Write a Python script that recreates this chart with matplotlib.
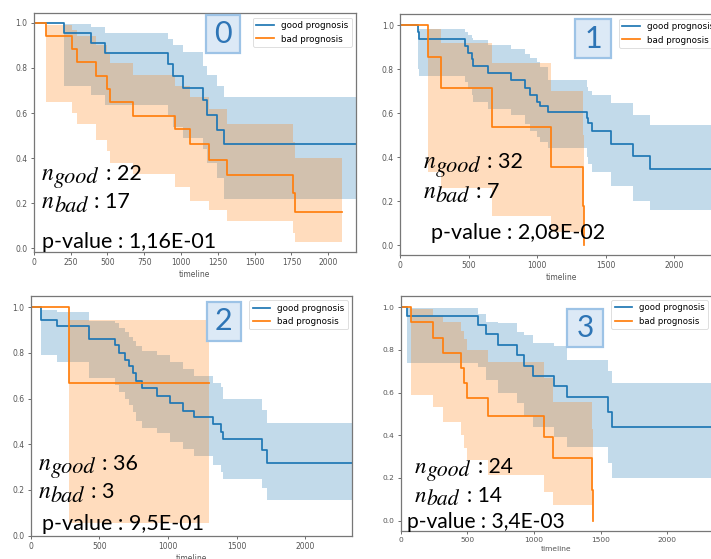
import matplotlib
matplotlib.use('Agg')
import matplotlib.pyplot as plt
from matplotlib.patches import Rectangle

W, H = 711, 559
fig = plt.figure(figsize=(W / 100, H / 100), dpi=100)

BLUE = '#1f77b4'
ORANGE = '#ff7f0e'

# ---------------- data ----------------
# panel 0
t0_good = [0, 208, 387, 484, 914, 948, 1011, 1152, 1174, 1242, 1292, 2188]
s0_good = [1.0, .955, .909, .864, .818, .764, .709, .657, .591, .524, .462, .462]
lo0_good = [1.0, .72, .68, .635, .59, .54, .49, .44, .38, .31, .22, .22]
hi0_good = [1.0, .995, .98, .955, .93, .90, .87, .81, .77, .72, .67, .67]
t0_bad = [0, 81, 258, 296, 423, 500, 518, 676, 959, 1061, 1190, 1310, 1758, 1771, 2090]
s0_bad = [1.0, .941, .882, .824, .765, .706, .647, .588, .529, .462, .392, .327, .245, .163, .163]
lo0_bad = [1.0, .65, .60, .55, .48, .43, .38, .33, .27, .21, .17, .12, .07, .03, .03]
hi0_bad = [1.0, .99, .97, .94, .90, .86, .82, .77, .72, .67, .62, .55, .47, .40, .40]

# panel 1
t1_good = [0, 129, 139, 474, 499, 523, 535, 640, 810, 912, 949, 998, 1022, 1078,
           1363, 1375, 1404, 1540, 1703, 1825, 2350]
s1_good = [1.0, .969, .938, .906, .875, .844, .813, .781, .75, .716, .683, .65, .63, .606,
           .576, .556, .518, .459, .406, .345, .345]
lo1_good = [1.0, .80, .77, .74, .71, .68, .65, .62, .59, .55, .52, .49, .47, .44,
            .40, .37, .33, .27, .20, .16, .16]
hi1_good = [1.0, .995, .98, .97, .955, .94, .93, .91, .89, .87, .85, .83, .81, .75,
            .72, .70, .68, .645, .59, .545, .545]
t1_bad = [0, 202, 299, 674, 1102, 1333, 1340]
s1_bad = [1.0, .857, .714, .536, .357, .179, 0.0]
lo1_bad = [1.0, .33, .26, .13, .06, .01, 0.0]
hi1_bad = [1.0, .98, .92, .826, .70, .50, 0.0]

# panel 2
t2_good = [0, 75, 194, 427, 614, 643, 687, 718, 748, 767, 808, 917, 1015, 1112, 1192,
           1330, 1383, 1398, 1682, 1718, 2342]
s2_good = [1.0, .944, .917, .861, .833, .80, .77, .742, .713, .677, .648, .612, .579, .547, .518,
           .489, .453, .421, .373, .32, .32]
lo2_good = [1.0, .79, .76, .69, .66, .63, .60, .57, .54, .50, .47, .45, .41, .38, .35,
            .31, .28, .25, .21, .155, .155]
hi2_good = [1.0, .988, .977, .94, .93, .91, .89, .87, .85, .83, .81, .79, .76, .73, .70,
            .67, .65, .60, .55, .495, .495]
t2_bad = [0, 282, 1301]
s2_bad = [1.0, .667, .667]
lo2_bad = [1.0, .055, .055]
hi2_bad = [1.0, .945, .945]

# panel 3
t3_good = [0, 45, 578, 640, 733, 870, 928, 995, 1153, 1245, 1558, 1583, 2335]
s3_good = [1.0, .958, .917, .875, .823, .777, .725, .678, .631, .581, .511, .4375, .4375]
lo3_good = [1.0, .74, .72, .66, .60, .55, .49, .44, .39, .345, .27, .20, .20]
hi3_good = [1.0, .995, .97, .933, .925, .886, .87, .831, .82, .753, .70, .644, .644]
t3_bad = [0, 75, 240, 320, 453, 475, 495, 658, 1078, 1145, 1433, 1440]
s3_bad = [1.0, .929, .857, .786, .714, .643, .573, .49, .394, .292, .144, 0.0]
lo3_bad = [1.0, .59, .534, .46, .40, .34, .284, .214, .136, .073, .01, 0.0]
hi3_bad = [1.0, .99, .96, .93, .89, .85, .80, .745, .67, .555, .43, 0.0]

panel_labels = ['0', '1', '2', '3']
n_good = [22, 32, 36, 24]
n_bad = [17, 7, 3, 14]
p_values = ['1,16E-01', '2,08E-02', '9,5E-01', '3,4E-03']
legend_labels = ['good prognosis', 'bad prognosis']

# ---------------- layout (pixels) ----------------
panels = [
    dict(rect=(33.7, 13.3, 322.3, 238.7), xlim=(0, 2188), ylim=(-0.016, 1.042), xstep=250, sc=1.0,
         good=(t0_good, s0_good, lo0_good, hi0_good), bad=(t0_bad, s0_bad, lo0_bad, hi0_bad),
         box=(205.7, 15, 240, 53), txt=((41.7, 180), (41.7, 208), (41.7, 248)), right=True),
    dict(rect=(400, 14.3, 322, 240.7), xlim=(0, 2350), ylim=(-0.045, 1.049), xstep=500, sc=1.0,
         good=(t1_good, s1_good, lo1_good, hi1_good), bad=(t1_bad, s1_bad, lo1_bad, hi1_bad),
         box=(575, 19.3, 611, 58.3), txt=((423.3, 168), (423.3, 198), (431, 239)), right=False),
    dict(rect=(30.7, 295.7, 321.6, 240), xlim=(0, 2342), ylim=(0.009, 1.05), xstep=500, sc=1.0,
         good=(t2_good, s2_good, lo2_good, hi2_good), bad=(t2_bad, s2_bad, lo2_bad, hi2_bad),
         box=(207, 301.7, 240.7, 340.7), txt=((38.3, 470), (38.3, 498.3), (41.7, 530)), right=True),
    dict(rect=(400.7, 295.7, 311.3, 235), xlim=(0, 2335), ylim=(-0.047, 1.054), xstep=500, sc=0.975,
         good=(t3_good, s3_good, lo3_good, hi3_good), bad=(t3_bad, s3_bad, lo3_bad, hi3_bad),
         box=(567, 309, 603, 347.3), txt=((415, 472.7), (415, 501.7), (406.7, 528.3)), right=False),
]

TXT_FONT = 'Lato'
MATH_FONT = 'STIXGeneral'
renderer = fig.canvas.get_renderer()


def put_n(x, y, sub, value, sc):
    t1 = fig.text(x / W, 1 - y / H, 'n', family=MATH_FONT, style='italic',
                  fontsize=17 * sc, va='baseline', ha='left', zorder=6)
    w1 = t1.get_window_extent(renderer).width
    t2 = fig.text((x + w1 + 0.5) / W, 1 - (y + 3.5) / H, sub, family=MATH_FONT, style='italic',
                  fontsize=16 * sc, va='baseline', ha='left', zorder=6)
    w2 = t2.get_window_extent(renderer).width
    fig.text((x + w1 + w2 + 7.5) / W, 1 - y / H, f': {value}', family=TXT_FONT,
             fontsize=15.5 * sc, va='baseline', ha='left', zorder=6)


for i, p in enumerate(panels):
    l, t, w, h = p['rect']
    ax = fig.add_axes([l / W, 1 - (t + h) / H, w / W, h / H])
    sc = p['sc']
    for key, col, lab in (('good', BLUE, legend_labels[0]), ('bad', ORANGE, legend_labels[1])):
        tt, ss, lo, hi = p[key]
        ax.fill_between(tt, lo, hi, step='post', color=col, alpha=0.27, lw=0)
        ax.plot(tt, ss, drawstyle='steps-post', color=col, lw=1.25, label=lab)
    ax.set_xlim(*p['xlim'])
    ax.set_ylim(*p['ylim'])
    ax.set_xticks(list(range(0, 2001, p['xstep'])))
    ax.set_yticks([0.0, 0.2, 0.4, 0.6, 0.8, 1.0])
    ax.tick_params(labelsize=5.5 * sc, colors='#555555', length=2.5, width=0.6, pad=2)
    for sp in ax.spines.values():
        sp.set_color('#777777')
        sp.set_linewidth(0.9)
    if not p['right']:
        ax.spines['right'].set_visible(False)
    ax.set_xlabel('timeline', fontsize=5.5 * sc, color='#555555', labelpad=2)
    leg = ax.legend(loc='upper right', fontsize=6.3 * sc, frameon=True, handlelength=2.0,
                    borderaxespad=0.5)
    leg.get_frame().set_edgecolor('#d0d0d0')
    leg.get_frame().set_linewidth(0.6)

    # number box
    x0, y0, x1, y1 = p['box']
    fig.add_artist(Rectangle((x0 / W, 1 - y1 / H), (x1 - x0) / W, (y1 - y0) / H,
                             transform=fig.transFigure, facecolor='#dce9f6',
                             edgecolor='#9dc3e6', lw=1.6, zorder=5))
    fig.text((x0 + x1) / 2 / W, 1 - (y0 + y1) / 2 / H, panel_labels[i], fontsize=22 * sc,
             family=TXT_FONT, color='#2e75b6', ha='center', va='center', zorder=6)

    (gx, gy), (bx, by), (px, py) = p['txt']
    put_n(gx, gy, 'good', n_good[i], sc)
    put_n(bx, by, 'bad', n_bad[i], sc)
    fig.text(px / W, 1 - py / H, f'p-value : {p_values[i]}', fontsize=15.5 * sc,
             family=TXT_FONT, color='black', ha='left', va='baseline', zorder=6)

fig.savefig('out.png', dpi=100)
